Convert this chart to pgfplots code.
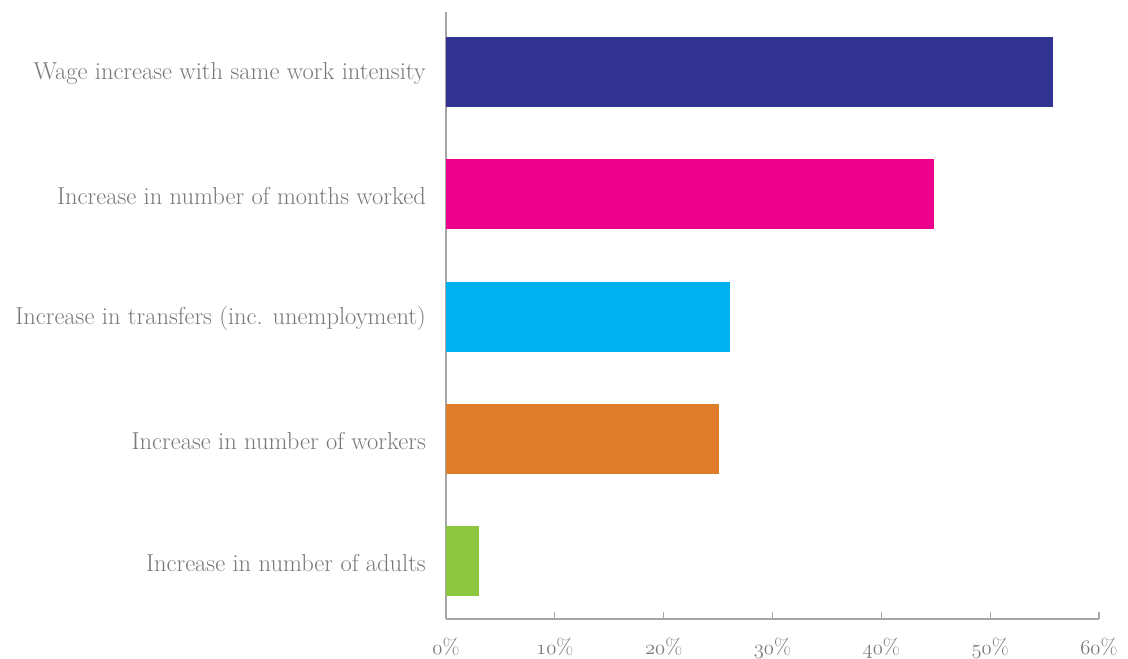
\documentclass[border=0pt]{standalone}
\usepackage{pgfplots}
\pgfplotsset{compat=1.18}
\definecolor{cnavy}{RGB}{51,51,145}
\definecolor{cmag}{RGB}{236,0,140}
\definecolor{ccyan}{RGB}{0,176,240}
\definecolor{corange}{RGB}{224,125,42}
\definecolor{cgreen}{RGB}{141,198,63}
\definecolor{ctext}{RGB}{120,120,120}
\definecolor{caxis}{RGB}{166,166,166}
\begin{document}
\begin{tikzpicture}
\begin{axis}[
  at={(0,0)}, anchor=south west,
  scale only axis, width=653bp, height=607bp,
  xmin=0, xmax=60, ymin=-0.47, ymax=4.49,
  axis x line*=bottom, axis y line*=left,
  axis line style={draw=caxis, line width=1.4bp},
  xbar, bar shift=0pt, bar width=70bp,
  ytick={0,1,2,3,4},
  yticklabels={Increase in number of adults, Increase in number of workers, Increase in transfers (inc. unemployment), Increase in number of months worked, Wage increase with same work intensity},
  ytick style={draw=none},
  yticklabel style={font=\fontsize{24.5bp}{28bp}\selectfont, text=ctext, inner sep=0pt, anchor=east, xshift=-20bp, yshift=-2bp},
  xtick={0,10,20,30,40,50,60},
  xticklabels={$\mathnormal{0}$\%, $\mathnormal{10}$\%, $\mathnormal{20}$\%, $\mathnormal{30}$\%, $\mathnormal{40}$\%, $\mathnormal{50}$\%, $\mathnormal{60}$\%},
  xticklabel style={font=\fontsize{22bp}{24bp}\selectfont, text=ctext, inner sep=0pt, anchor=north, yshift=-19bp},
  tick align=inside,
  major tick length=7bp,
  x tick style={draw=caxis, line width=1.2bp},
  clip=false,
]
\addplot[fill=cgreen, draw=none] coordinates {(3.0,0)};
\addplot[fill=corange, draw=none] coordinates {(25.1,1)};
\addplot[fill=ccyan, draw=none] coordinates {(26.1,2)};
\addplot[fill=cmag, draw=none] coordinates {(44.8,3)};
\addplot[fill=cnavy, draw=none] coordinates {(55.8,4)};
\end{axis}
\path[use as bounding box] (-446bp,-40bp) rectangle (682bp,619bp);
\end{tikzpicture}
\end{document}
